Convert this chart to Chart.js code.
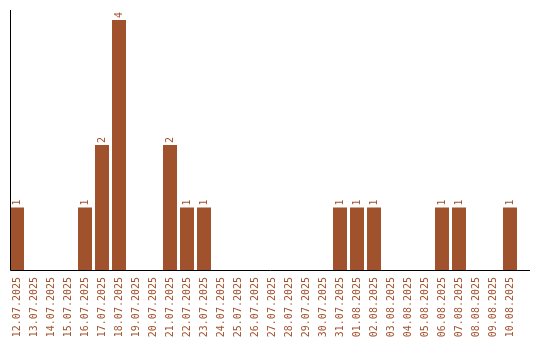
<!DOCTYPE html>
<html>
<head>
<meta charset="utf-8">
<script src="https://cdn.jsdelivr.net/npm/chart.js@4/dist/chart.umd.min.js"></script>
<style>
  html, body { margin: 0; padding: 0; background: #fff; }
  #wrap { width: 540px; height: 340px; }
</style>
</head>
<body>
<div id="wrap"><canvas id="chart"></canvas></div>
<script>
// dates shown on the x axis
const days = [
  '12.07.2025', '13.07.2025', '14.07.2025', '15.07.2025', '16.07.2025',
  '17.07.2025', '18.07.2025', '19.07.2025', '20.07.2025', '21.07.2025',
  '22.07.2025', '23.07.2025', '24.07.2025', '25.07.2025', '26.07.2025',
  '27.07.2025', '28.07.2025', '29.07.2025', '30.07.2025', '31.07.2025',
  '01.08.2025', '02.08.2025', '03.08.2025', '04.08.2025', '05.08.2025',
  '06.08.2025', '07.08.2025', '08.08.2025', '09.08.2025', '10.08.2025'
];
// count per day
const counts = [1, 0, 0, 0, 1, 2, 4, 0, 0, 2, 1, 1, 0, 0, 0, 0, 0, 0, 0, 1, 1, 1, 0, 0, 0, 1, 1, 0, 0, 1];

const barColor = '#A0522D';
const monoFont = { family: '"DejaVu Sans Mono", monospace', size: 10 };

// value above each bar, written bottom-to-top
const valueLabels = {
  id: 'valueLabels',
  afterDatasetsDraw(chart) {
    const ctx = chart.ctx;
    const meta = chart.getDatasetMeta(0);
    ctx.save();
    ctx.fillStyle = barColor;
    ctx.font = '10px "DejaVu Sans Mono", monospace';
    ctx.textAlign = 'left';
    ctx.textBaseline = 'middle';
    meta.data.forEach((bar, i) => {
      const v = counts[i];
      if (!v) return;
      ctx.save();
      ctx.translate(bar.x, bar.y - 2);
      ctx.rotate(-Math.PI / 2);
      ctx.fillText(String(v), 0, 0);
      ctx.restore();
    });
    ctx.restore();
  }
};

// plain black axis lines
const axisLines = {
  id: 'axisLines',
  afterDraw(chart) {
    const { ctx, chartArea } = chart;
    const x0 = chartArea.left + 1.5;
    ctx.save();
    ctx.strokeStyle = '#000';
    ctx.lineWidth = 1;
    ctx.beginPath();
    ctx.moveTo(x0 + 0.5, chartArea.top);
    ctx.lineTo(x0 + 0.5, chartArea.bottom + 0.5);
    ctx.lineTo(x0 + 520, chartArea.bottom + 0.5);
    ctx.stroke();
    ctx.restore();
  }
};

new Chart(document.getElementById('chart'), {
  type: 'bar',
  data: {
    labels: days,
    datasets: [{
      data: counts,
      backgroundColor: barColor,
      borderWidth: 0,
      barPercentage: 14 / 17,
      categoryPercentage: 1
    }]
  },
  options: {
    responsive: true,
    maintainAspectRatio: false,
    animation: false,
    layout: { padding: { left: 8.5, right: 21.5, top: 10, bottom: 0 } },
    plugins: { legend: { display: false }, tooltip: { enabled: false } },
    scales: {
      x: {
        grid: { display: false, drawTicks: false },
        border: { display: false },
        ticks: {
          color: barColor,
          font: monoFont,
          minRotation: 90,
          maxRotation: 90,
          autoSkip: false,
          padding: 7
        },
        afterFit(scale) { scale.height = 70; }
      },
      y: {
        display: false,
        min: 0,
        max: 4.16
      }
    }
  },
  plugins: [valueLabels, axisLines]
});
</script>
</body>
</html>
